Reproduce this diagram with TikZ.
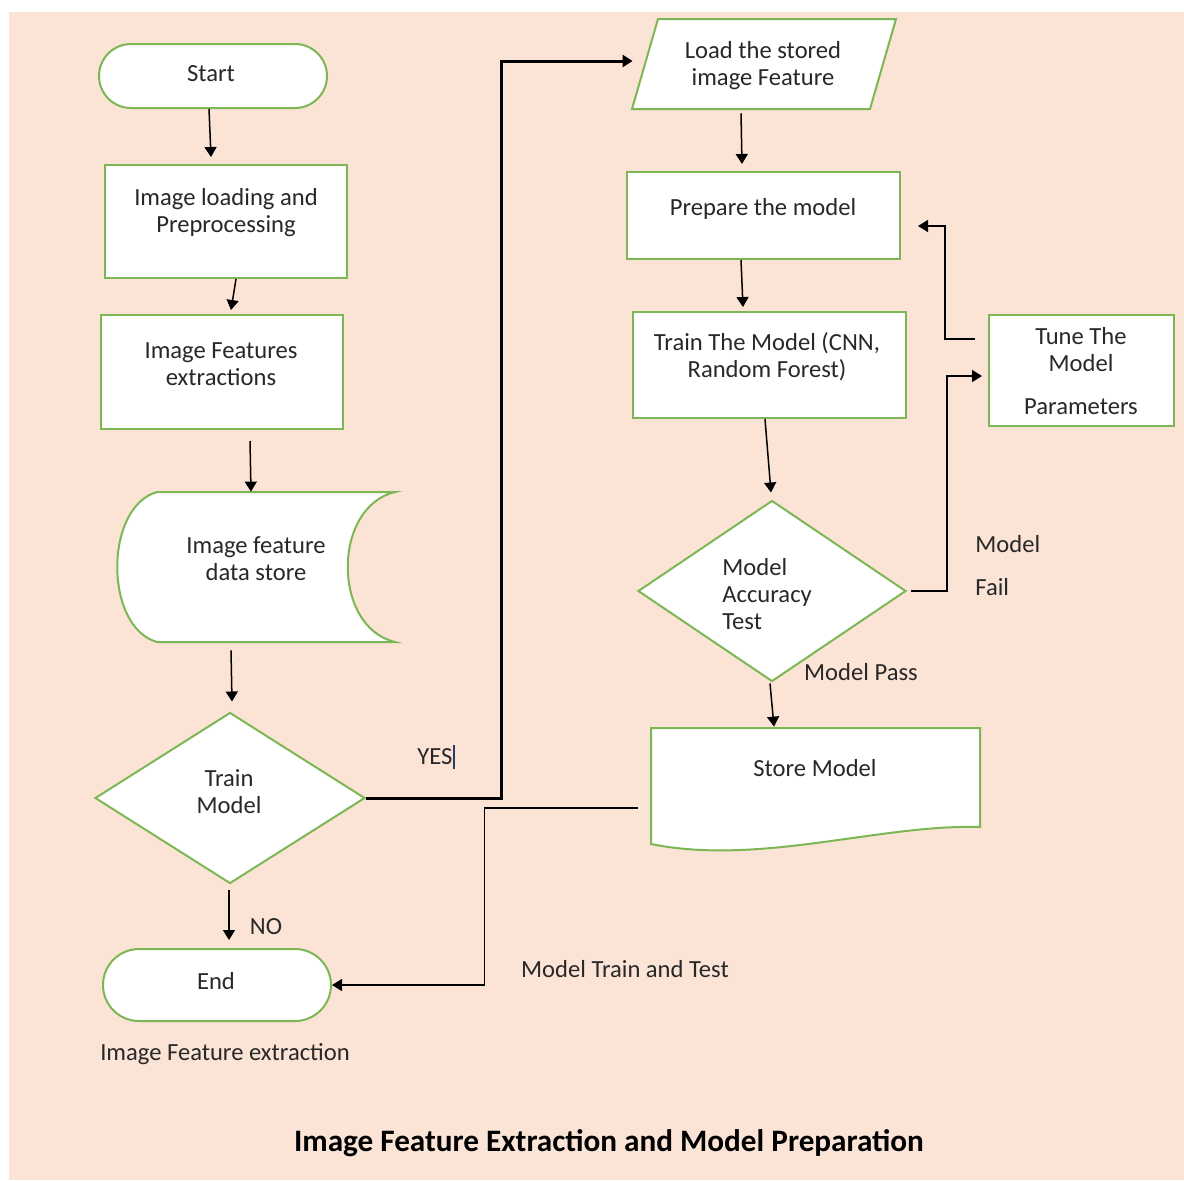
\documentclass[tikz,border=0pt]{standalone}
\usepackage{fontspec}
\setmainfont{Carlito}
\usetikzlibrary{arrows.meta,calc,fit,shapes.geometric}

\definecolor{peach}{RGB}{251,227,214}
\definecolor{boxgreen}{RGB}{125,182,84}
\definecolor{ink}{RGB}{40,40,40}
\definecolor{cursorblue}{RGB}{40,60,100}

\begin{document}
\begin{tikzpicture}[x=0.5pt,y=-0.5pt,
    shapeline/.style={draw=boxgreen, line width=1pt, fill=white},
    procbox/.style={shapeline, rectangle, inner sep=0pt},
    termbox/.style={procbox, rounded corners=16pt},
    decision/.style={shapeline, diamond, inner sep=0pt},
    txt/.style={text=ink, align=center, inner sep=0pt,
        font=\fontsize{12.3}{13.5}\selectfont},
    arr/.style={draw=black, line width=0.75pt,
        -{Triangle[length=5pt,width=6pt]}},
    thickarr/.style={arr, line width=1.5pt}]

\useasboundingbox (0,0) rectangle (1184,1180);

% Background
\fill[peach] (9,12) rectangle (1184,1180);

% Left column
\node[termbox, fit={(99,44)(327,108)}] (start) {};
\node[txt] (starttxt) at (211,74) {Start};

\node[procbox, fit={(105,165)(347,278)}] (prep) {};
\node[txt] (preptxt) at (226,213) {Image loading and\\Preprocessing};

\node[procbox, fit={(101,315)(343,429)}] (feat) {};
\node[txt] (feattxt) at (221,364) {Image Features\\extractions};

% Stored data shape
\node[fit={(117,492)(395,642)}, inner sep=0pt] (store) {};
\draw[shapeline] (157,492) -- (395,492)
    .. controls (332,507) and (332,627) .. (395,642) -- (157,642)
    .. controls (104,627) and (104,507) .. (157,492) -- cycle;
\node[txt] (storetxt) at (256,559) {Image feature\\data store};

\node[decision, minimum width=135pt, minimum height=85.5pt] (train) at (230,798) {};
\node[txt] (traintxt) at (229,792) {Train\\Model};

\node[termbox, rounded corners=18pt, fit={(103,949)(331,1021)}] (end) {};
\node[txt] (endtxt) at (216,981) {End};

% Right column
\node[fit={(632,19)(896,109)}, inner sep=0pt] (load) {};
\draw[shapeline] (658,19) -- (896,19) -- (870,109) -- (632,109) -- cycle;
\node[txt] (loadtxt) at (763,66) {Load the stored\\image Feature};

\node[procbox, fit={(627,172)(900,259)}] (model) {};
\node[txt] (modeltxt) at (763,209) {Prepare the model};

\node[procbox, fit={(633,312)(906,418)}] (fitbox) {};
\node[txt] (fittxt) at (767,357) {Train The Model (CNN,\\Random Forest)};

\node[decision, minimum width=134pt, minimum height=90.5pt] (acc) at (772,591) {};
\node[txt, align=left, anchor=west] (acctxt) at (722,594) {Model\\Accuracy\\Test};

\node[procbox, fit={(989,315)(1174,426)}] (tune) {};
\node[txt] (tunetxt) at (1081,371) {Tune The\\Model\\[8pt]Parameters};

% Document shape
\node[fit={(651,728)(980,851)}, inner sep=0pt] (doc) {};
\draw[shapeline] (651,728) -- (980,728) -- (980,827)
    .. controls (880,824) and (760,866) .. (651,844) -- cycle;
\node[txt] (doctxt) at (815,768) {Store Model};

% Connectors
\draw[arr] ($(start.south)+(-4,0)$) -- ($(prep.north)+(-15,-7)$);
\draw[arr] ($(prep.south)+(10,0)$) -- ($(feat.north)+(9,-4)$);
\draw[arr] ($(feat.south)+(28,11)$) -- ($(store.north)+(-5,0)$);
\draw[arr] ($(store.south)+(-25,8)$) -- ($(train.north)+(2,-10)$);
\draw[arr] ($(train.south)+(-1,5)$) -- ($(end.north)+(12,-8)$);
\draw[thickarr] (train.east) -- ++(135,0) |- ($(load.west)+(1,-3)$);

\draw[arr] ($(load.south)+(-23,4)$) -- ($(model.north)+(-21.5,-7)$);
\draw[arr] ($(model.south)+(-22.5,0)$) -- ($(fitbox.north)+(-26.5,-4)$);
\draw[arr] ($(fitbox.south)+(-4.5,0)$) -- ($(acc.north)+(-1,-7)$);
\draw[arr] ($(acc.south)+(-2,1)$) -- ($(doc.north)+(-41.5,-1)$);
\draw[arr] ($(acc.east)+(4,0)$) -- ++(36,0) |- ($(tune.west)+(-6,5.5)$);
\draw[arr] ($(tune.west)+(-13,-31.5)$) -- ++(-30,0) |- ($(model.east)+(17,10.5)$);
\draw[arr] ($(doc.west)+(-13,18.5)$) -- ++(-153,0) |- (end.east);

% Labels
\node[txt] (yes) at (435,757) {YES};
\draw[cursorblue, line width=0.6pt] (454,745) -- (454,769);
\node[txt] (no) at (266,927) {NO};
\node[txt] (pass) at (861,672) {Model Pass};
\node[txt, anchor=west] (failA) at (975,544) {Model};
\node[txt, anchor=west] (failB) at (975,587) {Fail};
\node[txt] (cycle) at (625,969) {Model Train and Test};
\node[txt] (part) at (225,1054) {Image Feature extraction};
\node[txt, text=black, font=\fontsize{15.6}{17}\selectfont\bfseries] (title)
    at (609,1143) {Image Feature Extraction and Model Preparation};

\end{tikzpicture}
\end{document}
